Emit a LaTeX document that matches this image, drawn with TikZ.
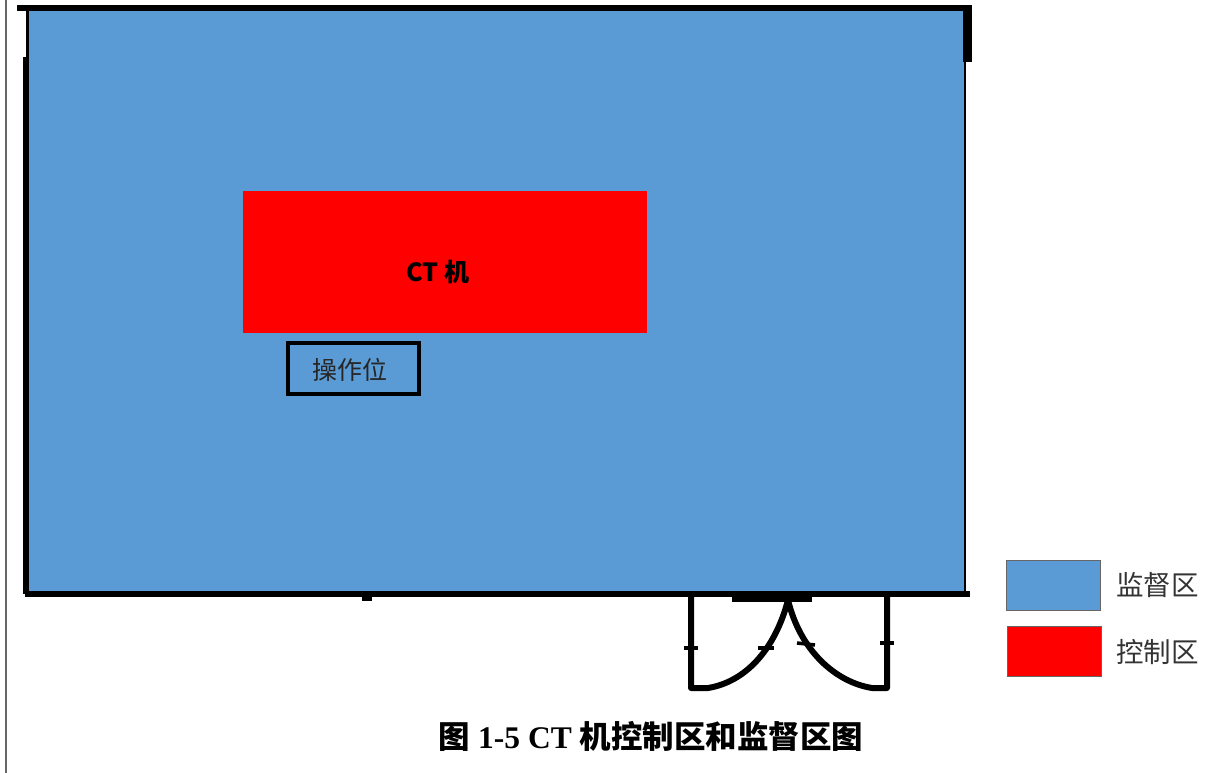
\documentclass[tikz,border=0pt]{standalone}
\usepackage{fontspec}
\setmainfont{Liberation Serif}
\newfontfamily\cjk{Noto Sans CJK SC}
\definecolor{monblue}{HTML}{5B9BD5}
\definecolor{ctred}{HTML}{FF0000}
\tikzset{
  wall/.style={line width=5.5pt, black},
  doorline/.style={line width=6pt, black, line cap=round, line join=round},
  tick/.style={line width=3.5pt, black},
  legendbox/.style={draw=black!60, line width=0.8pt, minimum width=94pt, minimum height=50pt, inner sep=0pt},
  legendtext/.style={font=\cjk\fontsize{27.5}{27.5}\selectfont, text=black!80, anchor=west, inner sep=0pt},
}
\begin{document}
\begin{tikzpicture}[x=1pt,y=-1pt]
\useasboundingbox (0,0) rectangle (1229,773);
% left page rule
\draw[black!60, line width=2pt] (6,0) -- (6,773);
% monitored area
\fill[monblue] (27,9) rectangle (965,592);
\draw[black, line width=1.2pt] (27,9) rectangle (965,592);
% walls
\draw[wall] (17,8) -- (970,8);
\draw[line width=3pt] (27,9) -- (27,592);
\draw[line width=4pt] (25,57) -- (25,594);
\draw[wall] (25,594) -- (970,594);
\fill[black] (963,5) rectangle (972,62);
\fill[black] (362,596) rectangle (372,601);
% control area
\node[fill=ctred, minimum width=404pt, minimum height=142pt, inner sep=0pt, anchor=north west] (ct) at (243,191) {};
\node[font=\cjk\bfseries\fontsize{25}{25}\selectfont] (ctlabel) at (438,272) {CT 机};
% operator position
\node[draw=black, line width=4pt, minimum width=131pt, minimum height=51pt, inner sep=0pt, anchor=north west] (op) at (286,341) {};
\node[font=\cjk\fontsize{25}{25}\selectfont, text=black!85] (oplabel) at (350,370) {操作位};
% door
\coordinate (dtop) at (788,600);
\draw[doorline] (691,596) -- (691,688) -- (708,688) .. controls (745,682) and (775,650) .. (dtop);
\draw[doorline] (887,596) -- (887,688) -- (872,688) .. controls (835,682) and (800,650) .. (dtop);
\fill[black] (732,594) rectangle (812,602);
\draw[tick] (684,648) -- (698,648);
\draw[tick] (880,643) -- (894,643);
\draw[tick] (758,648) -- (774,648);
\draw[tick] (797,643) -- (815,645);
% legend
\node[legendbox, fill=monblue, anchor=north west] (lgblue) at (1006,560) {};
\node[legendbox, fill=ctred, anchor=north west] (lgred) at (1007,626) {};
\node[legendtext] (lgbluet) at (1116,585) {监督区};
\node[legendtext] (lgredt) at (1116,652) {控制区};
% caption
\node[font=\fontsize{31.5}{31.5}\selectfont\bfseries] (cap) at (651,736) {{\cjk 图} 1-5 CT {\cjk 机控制区和监督区图}};
\end{tikzpicture}
\end{document}
